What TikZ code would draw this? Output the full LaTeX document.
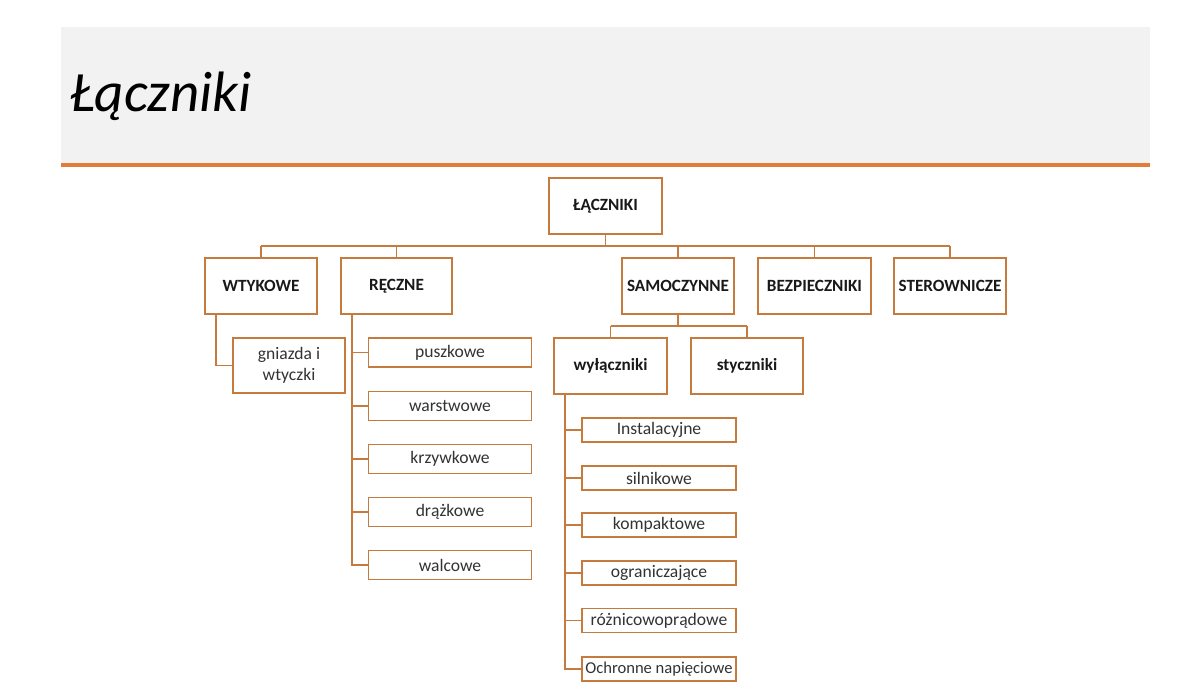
\documentclass[tikz,border=0pt]{standalone}
\usepackage{fontspec}
\setmainfont{Carlito}
\definecolor{boxc}{RGB}{197,122,62}
\definecolor{hline}{RGB}{226,124,58}
\definecolor{hgray}{RGB}{242,242,242}
\begin{document}
\begin{tikzpicture}[x=0.025cm,y=-0.025cm,
  box/.style={draw=boxc,line width=1.4pt,fill=white,inner sep=0pt,align=center,font=\fontsize{12.5}{15}\selectfont,text=black!80},
  big/.style={box,minimum width=112*0.025cm,minimum height=56*0.025cm,font=\fontsize{12.2}{15}\selectfont\bfseries,text=black!90},
  rsub/.style={box,minimum width=163*0.025cm,minimum height=29*0.025cm},
  wsub/.style={box,minimum width=154*0.025cm,minimum height=24*0.025cm},
  link/.style={draw=boxc,line width=1.4pt}]
\useasboundingbox (0,0) rectangle (1200,696);
\fill[hgray] (61,27) rectangle (1150,165);
\draw[hline,line width=2.2pt] (61,165) -- (1150,165);
\node[anchor=base west,inner sep=0pt,font=\fontsize{40.5}{48}\selectfont\itshape] (title) at (70,111) {Łączniki};

\node[big,minimum width=113*0.025cm] (root) at (605.5,206) {ŁĄCZNIKI};
\node[big] (wtyk) at (261,286) {WTYKOWE};
\node[big,minimum width=111*0.025cm] (recz) at (396.5,286) {RĘCZNE};
\node[big] (samo) at (678,286) {SAMOCZYNNE};
\node[big,minimum width=113*0.025cm] (bezp) at (814.5,286) {BEZPIECZNIKI};
\node[big] (ster) at (950,286) {STEROWNICZE};

\node[box,minimum width=112*0.025cm,minimum height=55*0.025cm] (gniaz) at (289,365.5) {gniazda i\\wtyczki};

\node[rsub] (r1) at (450,352.5) {puszkowe};
\node[rsub] (r2) at (450,406) {warstwowe};
\node[rsub] (r3) at (450,459) {krzywkowe};
\node[rsub] (r4) at (450,512) {drążkowe};
\node[rsub] (r5) at (450,565) {walcowe};

\node[big,minimum width=113*0.025cm] (wyl) at (610.5,366) {wyłączniki};
\node[big] (stycz) at (747,366) {styczniki};

\node[wsub] (w1) at (659,430) {Instalacyjne};
\node[wsub] (w2) at (659,478) {silnikowe};
\node[wsub] (w3) at (659,525) {kompaktowe};
\node[wsub] (w4) at (659,573) {ograniczające};
\node[wsub] (w5) at (659,620.5) {różnicowoprądowe};
\node[wsub,font=\fontsize{11.8}{14}\selectfont] (w6) at (659,669) {Ochronne napięciowe};

% main bus
\coordinate (bus) at (0,246);
\draw[link] (root.south) -- (root.south |- bus);
\draw[link] (wtyk.north |- bus) -- (ster.north |- bus);
\foreach \n in {wtyk,recz,samo,bezp,ster} \draw[link] (\n.north) -- (\n.north |- bus);

% samoczynne sub-bus
\coordinate (sbus) at (0,326);
\draw[link] (samo.south) -- (samo.south |- sbus);
\draw[link] (wyl.north |- sbus) -- (stycz.north |- sbus);
\draw[link] (wyl.north) -- (wyl.north |- sbus);
\draw[link] (stycz.north) -- (stycz.north |- sbus);

% wtykowe
\coordinate (wt) at (216,314);
\draw[link] (wt) |- (gniaz.west);

% reczne trunk
\coordinate (rt) at (352,314);
\foreach \n in {r1,r2,r3,r4,r5} \draw[link] (rt) |- (\n.west);

% wylaczniki trunk
\coordinate (wlt) at (565,394);
\foreach \n in {w1,w2,w3,w4,w5,w6} \draw[link] (wlt) |- (\n.west);
\end{tikzpicture}
\end{document}
